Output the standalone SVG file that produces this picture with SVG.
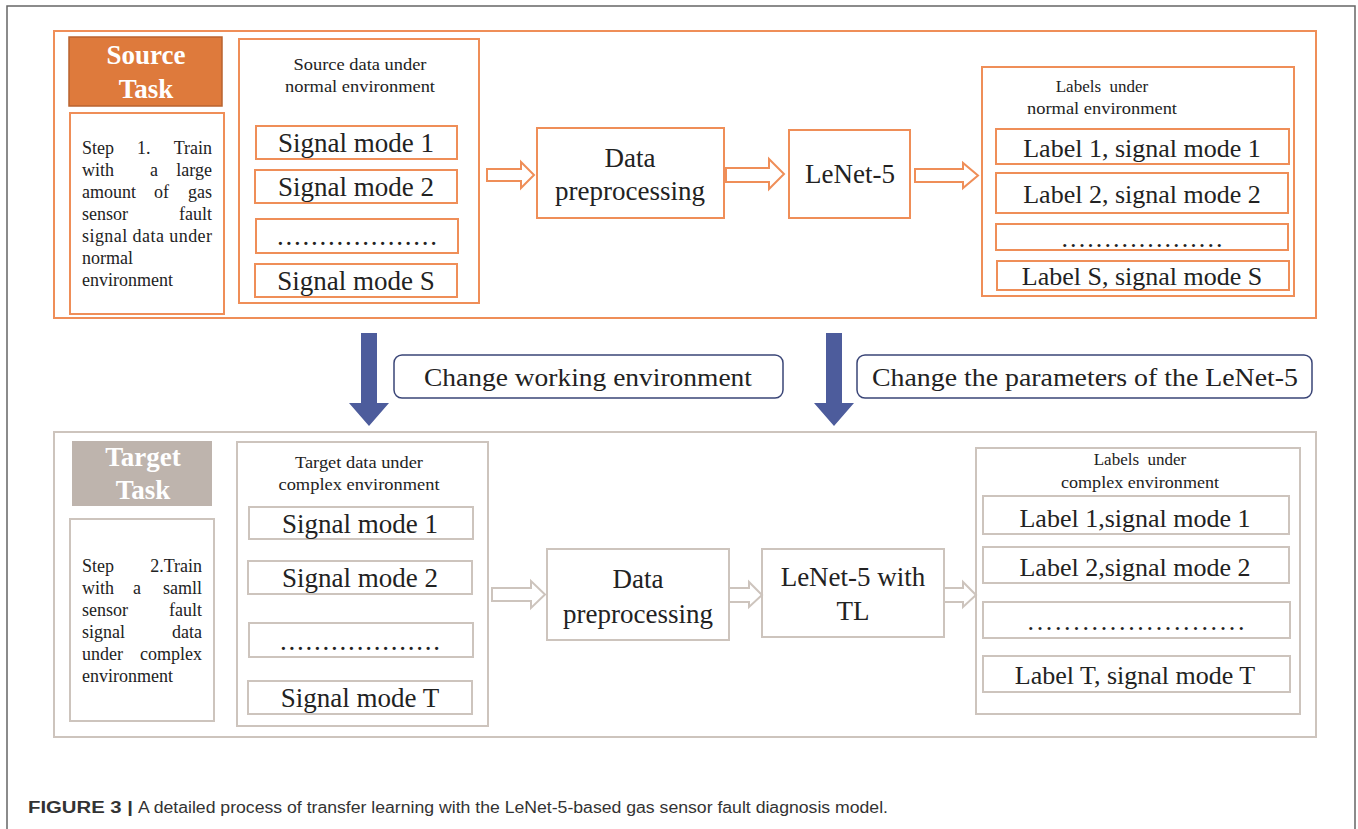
<svg xmlns="http://www.w3.org/2000/svg" width="1358" height="829" viewBox="0 0 1358 829">
  <style>
    .serif { font-family: "Liberation Serif", "Times New Roman", serif; fill: #222; }
    .big { font-size: 27px; }
    .lbl { font-size: 26px; }
    .small { font-size: 17px; }
    .step { font-size: 18px; }
    .head { font-family: "Liberation Serif", "Times New Roman", serif; font-size: 27px; font-weight: bold; fill: #fff; }
    .src { fill: #fff; stroke: #EF8E58; stroke-width: 2; }
    .tgt { fill: #fff; stroke: #CDC4BD; stroke-width: 2; }
    .srcArrow { fill: #fff; stroke: #EF8E58; stroke-width: 2; stroke-linejoin: miter; }
    .tgtArrow { fill: #fff; stroke: #CDC4BD; stroke-width: 2; stroke-linejoin: miter; }
    .blueArrow { fill: #4D5C9C; }
    .note { fill: #fff; stroke: #3A4577; stroke-width: 1.5; }
    .cap { font-family: "Liberation Sans", Arial, sans-serif; font-size: 16px; fill: #333; }
  </style>

  <!-- page frame -->
  <path d="M7,829 V6 H1355 V829" fill="none" stroke="#666" stroke-width="1.5"/>

  <!-- ===== Source task ===== -->
  <g id="source-panel">
    <rect class="src" x="54" y="31" width="1262" height="287"/>
  </g>

  <g id="source-task-header">
    <rect x="69" y="37" width="153" height="69" fill="#DE7A3C" stroke="#B9632F" stroke-width="1.5"/>
    <text class="head" x="146" y="64" text-anchor="middle">Source</text>
    <text class="head" x="146" y="98" text-anchor="middle">Task</text>
  </g>

  <g id="source-step">
    <rect class="src" x="70" y="113" width="154" height="201"/>
    <g class="serif step">
      <text x="82" y="154">Step</text><text x="137" y="154">1.</text><text x="212" y="154" text-anchor="end">Train</text>
      <text x="82" y="176">with</text><text x="150" y="176">a</text><text x="212" y="176" text-anchor="end">large</text>
      <text x="82" y="198">amount</text><text x="154" y="198">of</text><text x="212" y="198" text-anchor="end">gas</text>
      <text x="82" y="220">sensor</text><text x="212" y="220" text-anchor="end">fault</text>
      <text x="82" y="242" textLength="130" lengthAdjust="spacing">signal data under</text>
      <text x="82" y="264">normal</text>
      <text x="82" y="286">environment</text>
    </g>
  </g>

  <g id="source-data">
    <rect class="src" x="239" y="39" width="240" height="264"/>
    <text class="serif small" x="360" y="70" text-anchor="middle" textLength="133" lengthAdjust="spacingAndGlyphs">Source data under</text>
    <text class="serif small" x="360" y="92" text-anchor="middle" textLength="150" lengthAdjust="spacingAndGlyphs">normal environment</text>
    <rect class="src" x="256" y="126" width="201" height="33"/>
    <text class="serif big" x="356" y="152" text-anchor="middle">Signal mode 1</text>
    <rect class="src" x="255" y="170" width="202" height="33"/>
    <text class="serif big" x="356" y="196" text-anchor="middle">Signal mode 2</text>
    <rect class="src" x="256" y="219" width="202" height="34"/>
    <text class="serif big" x="357" y="245" text-anchor="middle" textLength="160" lengthAdjust="spacing">...................</text>
    <rect class="src" x="255" y="264" width="202" height="33"/>
    <text class="serif big" x="356" y="290" text-anchor="middle">Signal mode S</text>
  </g>

  <g id="source-preprocessing">
    <rect class="src" x="537" y="128" width="187" height="90"/>
    <text class="serif big" x="630" y="167" text-anchor="middle">Data</text>
    <text class="serif big" x="630" y="200" text-anchor="middle">preprocessing</text>
  </g>

  <g id="source-lenet">
    <rect class="src" x="789" y="130" width="121" height="88"/>
    <text class="serif big" x="850" y="183" text-anchor="middle">LeNet-5</text>
  </g>

  <g id="source-labels">
    <rect class="src" x="982" y="67" width="312" height="229"/>
    <text class="serif small" x="1102" y="92" text-anchor="middle" xml:space="preserve">Labels  under</text>
    <text class="serif small" x="1102" y="114" text-anchor="middle" textLength="150" lengthAdjust="spacingAndGlyphs">normal environment</text>
    <rect class="src" x="996" y="129" width="293" height="35"/>
    <text class="serif lbl" x="1142" y="157" text-anchor="middle">Label 1, signal mode 1</text>
    <rect class="src" x="996" y="173" width="292" height="40"/>
    <text class="serif lbl" x="1142" y="203" text-anchor="middle">Label 2, signal mode 2</text>
    <rect class="src" x="996" y="224" width="292" height="26"/>
    <text class="serif lbl" x="1142" y="247" text-anchor="middle" textLength="161" lengthAdjust="spacing">...................</text>
    <rect class="src" x="997" y="261" width="292" height="29"/>
    <text class="serif lbl" x="1142" y="285" text-anchor="middle">Label S, signal mode S</text>
  </g>

  <!-- ===== Transfer step ===== -->
  <g id="change-environment">
    <rect class="note" x="394" y="355" width="389" height="43" rx="8"/>
    <text class="serif" font-size="25" x="588" y="386" text-anchor="middle" textLength="328" lengthAdjust="spacingAndGlyphs">Change working environment</text>
  </g>

  <g id="change-parameters">
    <rect class="note" x="857" y="355" width="455" height="43" rx="8"/>
    <text class="serif" font-size="25" x="1085" y="386" text-anchor="middle" textLength="426" lengthAdjust="spacingAndGlyphs">Change the parameters of the LeNet-5</text>
  </g>

  <!-- ===== Target task ===== -->
  <g id="target-panel">
    <rect class="tgt" x="54" y="432" width="1262" height="305"/>
  </g>

  <g id="target-task-header">
    <rect x="72" y="441" width="140" height="65" fill="#BEB4AD"/>
    <text class="head" x="143" y="466" text-anchor="middle">Target</text>
    <text class="head" x="143" y="499" text-anchor="middle">Task</text>
  </g>

  <g id="target-step">
    <rect class="tgt" x="70" y="519" width="144" height="202"/>
    <g class="serif step">
      <text x="82" y="572">Step</text><text x="202" y="572" text-anchor="end">2.Train</text>
      <text x="82" y="594">with</text><text x="133" y="594">a</text><text x="202" y="594" text-anchor="end">samll</text>
      <text x="82" y="616">sensor</text><text x="202" y="616" text-anchor="end">fault</text>
      <text x="82" y="638">signal</text><text x="202" y="638" text-anchor="end">data</text>
      <text x="82" y="660">under</text><text x="202" y="660" text-anchor="end">complex</text>
      <text x="82" y="682">environment</text>
    </g>
  </g>

  <g id="target-data">
    <rect class="tgt" x="237" y="442" width="251" height="284"/>
    <text class="serif small" x="359" y="468" text-anchor="middle" textLength="128" lengthAdjust="spacingAndGlyphs">Target data under</text>
    <text class="serif small" x="359" y="490" text-anchor="middle" textLength="161" lengthAdjust="spacingAndGlyphs">complex environment</text>
    <rect class="tgt" x="249" y="507" width="224" height="32"/>
    <text class="serif big" x="360" y="533" text-anchor="middle">Signal mode 1</text>
    <rect class="tgt" x="248" y="561" width="224" height="33"/>
    <text class="serif big" x="360" y="587" text-anchor="middle">Signal mode 2</text>
    <rect class="tgt" x="249" y="623" width="224" height="34"/>
    <text class="serif big" x="360" y="650" text-anchor="middle" textLength="160" lengthAdjust="spacing">...................</text>
    <rect class="tgt" x="248" y="681" width="224" height="33"/>
    <text class="serif big" x="360" y="707" text-anchor="middle">Signal mode T</text>
  </g>

  <g id="target-preprocessing">
    <rect class="tgt" x="547" y="549" width="182" height="91"/>
    <text class="serif big" x="638" y="588" text-anchor="middle">Data</text>
    <text class="serif big" x="638" y="623" text-anchor="middle">preprocessing</text>
  </g>

  <g id="target-lenet">
    <rect class="tgt" x="762" y="549" width="182" height="88"/>
    <text class="serif big" x="853" y="586" text-anchor="middle">LeNet-5 with</text>
    <text class="serif big" x="853" y="620" text-anchor="middle">TL</text>
  </g>

  <g id="target-labels">
    <rect class="tgt" x="976" y="448" width="324" height="266"/>
    <text class="serif small" x="1140" y="465" text-anchor="middle" xml:space="preserve">Labels  under</text>
    <text class="serif small" x="1140" y="488" text-anchor="middle" textLength="158" lengthAdjust="spacingAndGlyphs">complex environment</text>
    <rect class="tgt" x="983" y="496" width="306" height="38"/>
    <text class="serif lbl" x="1135" y="527" text-anchor="middle">Label 1,signal mode 1</text>
    <rect class="tgt" x="983" y="547" width="306" height="36"/>
    <text class="serif lbl" x="1135" y="576" text-anchor="middle">Label 2,signal mode 2</text>
    <rect class="tgt" x="983" y="602" width="307" height="36"/>
    <text class="serif lbl" x="1136" y="630" text-anchor="middle" textLength="217" lengthAdjust="spacing">........................</text>
    <rect class="tgt" x="983" y="656" width="307" height="36"/>
    <text class="serif lbl" x="1135" y="684" text-anchor="middle">Label T, signal mode T</text>
  </g>

  <!-- ===== Connectors ===== -->
  <g id="connectors">
    <!-- hollow block arrows, source row -->
    <path class="srcArrow" d="M487,169 H521 V162 L534,175 L521,188 V181 H487 Z"/>
    <path class="srcArrow" d="M726,168 H769 V159 L784,174 L769,189 V182 H726 Z"/>
    <path class="srcArrow" d="M915,169 H963 V163 L978,175.5 L963,188 V182 H915 Z"/>
    <!-- hollow block arrows, target row -->
    <path class="tgtArrow" d="M492,588 H531 V581 L545,594.5 L531,608 V601 H492 Z"/>
    <path class="tgtArrow" d="M729,588 H749 V582 L762,595 L749,607 V602 H729 Z"/>
    <path class="tgtArrow" d="M944,588 H963 V582 L976,595 L963,607 V602 H944 Z"/>
    <!-- transfer arrows from source to target -->
    <path class="blueArrow" d="M361,333 H377 V403 H389 L369,426 L349,403 H361 Z"/>
    <path class="blueArrow" d="M826,333 H842 V403 H854 L834,426 L814,403 H826 Z"/>
  </g>

  <!-- caption -->
  <text class="cap" x="28" y="813" font-weight="bold" textLength="105" lengthAdjust="spacingAndGlyphs">FIGURE 3 |</text>
  <text class="cap" x="138" y="813" textLength="750" lengthAdjust="spacingAndGlyphs">A detailed process of transfer learning with the LeNet-5-based gas sensor fault diagnosis model.</text>
</svg>
